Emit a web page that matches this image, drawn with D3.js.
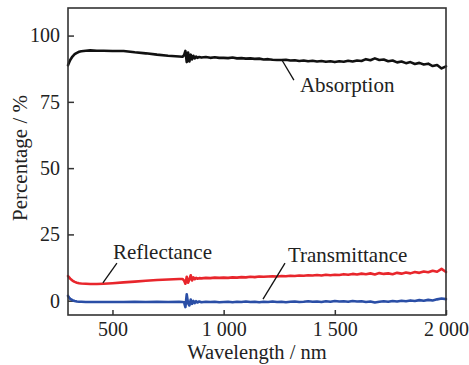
<!DOCTYPE html>
<html><head><meta charset="utf-8">
<script src="https://cdn.jsdelivr.net/npm/d3@7"></script>
<style>
html,body{margin:0;padding:0;background:#fff;}
svg{display:block;}
svg text{font-family:'Liberation Serif','Tinos','Times New Roman','DejaVu Serif',serif !important;fill:#222;}
</style></head>
<body>
<svg id="chart" width="469" height="365"></svg>
<script>
const wavelength = [300,305,310,320,330,340,350,360,380,400,430,460,500,550,600,650,700,750,800,815,
  822,828,834,840,846,852,858,864,870,876,882,890,900,920,940,960,980,
  1000,1020,1040,1060,1080,1100,1120,1140,1160,1180,1200,1220,1240,1260,1280,1300,1320,1340,1360,1380,
  1400,1420,1440,1460,1480,1500,1520,1540,1560,1580,1600,1620,1640,1660,1680,1700,1720,1740,1760,1780,
  1800,1820,1840,1860,1880,1900,1920,1940,1960,1980,2000];

const absorption = [88.8,89.8,90.8,92.1,93.0,93.5,93.9,94.1,94.3,94.4,94.3,94.3,94.2,94.2,93.7,93.3,92.8,92.4,92.1,92.0,
  92.6,94.2,90.0,93.6,90.2,92.8,91.0,92.4,91.4,92.1,91.6,91.9,91.7,91.9,91.6,91.8,91.6,
  91.6,91.5,91.7,91.4,91.5,91.3,91.4,91.2,91.3,91.0,91.1,90.9,90.8,90.8,90.9,90.6,90.7,90.4,90.6,90.3,
  90.5,90.2,90.4,90.1,90.3,90.0,90.3,90.1,90.5,90.2,90.6,90.4,91.1,90.7,91.4,90.8,91.0,90.3,90.6,89.9,
  90.2,89.6,90.0,89.3,89.7,89.1,89.4,88.5,88.9,87.6,88.4];

const reflectance = [9.3,8.8,8.3,7.6,7.1,6.8,6.6,6.5,6.4,6.3,6.3,6.4,6.6,6.9,7.2,7.5,7.8,8.0,8.2,8.2,
  7.6,6.4,9.0,6.8,8.0,9.6,7.6,8.8,8.1,8.6,8.3,8.5,8.4,8.6,8.5,8.7,8.6,
  8.7,8.6,8.8,8.7,8.9,8.8,9.0,8.9,9.1,9.0,9.1,9.2,9.1,9.3,9.2,9.4,9.3,9.5,9.4,9.6,
  9.5,9.7,9.5,9.8,9.6,9.8,9.7,10.0,9.8,10.1,9.9,10.2,10.0,10.3,9.9,10.4,10.1,10.3,10.0,10.5,
  10.2,10.6,10.3,10.8,10.5,11.0,10.7,11.3,10.9,12.0,10.8];

const transmittance = [1.8,1.2,0.7,0.2,-0.1,-0.3,-0.4,-0.4,-0.5,-0.5,-0.5,-0.5,-0.5,-0.5,-0.4,-0.5,-0.4,-0.5,-0.4,-0.5,
  -0.6,-2.4,2.4,-1.0,-1.8,0.4,-1.2,-0.1,-0.9,-0.2,-0.7,-0.3,-0.6,-0.4,-0.5,-0.4,-0.6,
  -0.5,-0.4,-0.6,-0.4,-0.5,-0.3,-0.5,-0.4,-0.6,-0.4,-0.5,-0.3,-0.5,-0.4,-0.6,-0.4,-0.3,-0.5,-0.4,-0.2,
  -0.4,-0.3,-0.5,-0.2,-0.4,-0.1,-0.3,-0.2,-0.4,-0.1,-0.3,-0.2,-0.5,-0.3,-0.7,-0.4,-0.2,-0.4,-0.1,-0.3,
  0.0,-0.2,0.1,-0.1,0.2,0.0,0.3,0.1,0.5,0.8,0.6];

const xTicks = [500,1000,1500,2000];
const yTicks = [0,25,50,75,100];
const seriesNames = ["Absorption","Reflectance","Transmittance"];
const seriesColors = ["#111111","#e8262c","#2a4ea6"];
// annotation label anchor [wavelength, value] and leader line [[w1,v1],[w2,v2]]
const labelAnchors = [[1343,78.7],[502,15.7],[1289,14.7]];
const leaderLines = [[[1262,90.8],[1316,83.2]],[[520,14.2],[457,6.7]],[[1276,14.2],[1177,0.6]]];

const FONT = "'Liberation Serif','Tinos','Times New Roman','DejaVu Serif',serif";
const svg = d3.select("#chart");
const L=68, R=446, T=8, B=315;
const x = d3.scaleLinear().domain([300,2000]).range([L,R]);
const y = d3.scaleLinear().domain([-5.4,110.4]).range([B,T]);

const fmt = d => d>=1000 ? String(d).replace(/(\d)(\d{3})$/,"$1 $2") : String(d);

const xAxis = svg.append("g").attr("transform",`translate(0,${B})`)
  .call(d3.axisBottom(x).tickValues(xTicks).tickSize(-5).tickPadding(7).tickFormat(fmt));
const yAxis = svg.append("g").attr("transform",`translate(${L},0)`)
  .call(d3.axisLeft(y).tickValues(yTicks).tickSize(-6).tickPadding(8).tickFormat(fmt));
[xAxis,yAxis].forEach(g=>{
  g.attr("font-family",FONT).attr("font-size",20);
  g.select(".domain").remove();
  g.selectAll(".tick line").attr("stroke","#333").attr("stroke-width",1.5);
  g.selectAll(".tick text").attr("fill","#222");
});

const series = [absorption,reflectance,transmittance];
const line = d3.line().x((d,i)=>x(wavelength[i])).y(d=>y(d));
series.forEach((s,k)=>{
  svg.append("path").datum(s).attr("d",line)
    .attr("fill","none").attr("stroke",seriesColors[k]).attr("stroke-width",2.6)
    .attr("stroke-linejoin","round").attr("stroke-linecap","round");
});

svg.append("rect").attr("x",L).attr("y",T).attr("width",R-L).attr("height",B-T)
  .attr("fill","none").attr("stroke","#333").attr("stroke-width",1.6);

leaderLines.forEach(l=>{
  svg.append("line").attr("x1",x(l[0][0])).attr("y1",y(l[0][1]))
    .attr("x2",x(l[1][0])).attr("y2",y(l[1][1]))
    .attr("stroke","#111").attr("stroke-width",1.3);
});
seriesNames.forEach((n,k)=>{
  svg.append("text").attr("x",x(labelAnchors[k][0])).attr("y",y(labelAnchors[k][1]))
    .attr("font-family",FONT).attr("font-size",21).text(n);
});

svg.append("text").attr("x",(L+R)/2).attr("y",359).attr("text-anchor","middle")
  .attr("font-family",FONT).attr("font-size",20.5).text("Wavelength / nm");
svg.append("text").attr("transform",`translate(27,158) rotate(-90)`).attr("text-anchor","middle")
  .attr("font-family",FONT).attr("font-size",21).text("Percentage / %");
</script>
</body></html>
